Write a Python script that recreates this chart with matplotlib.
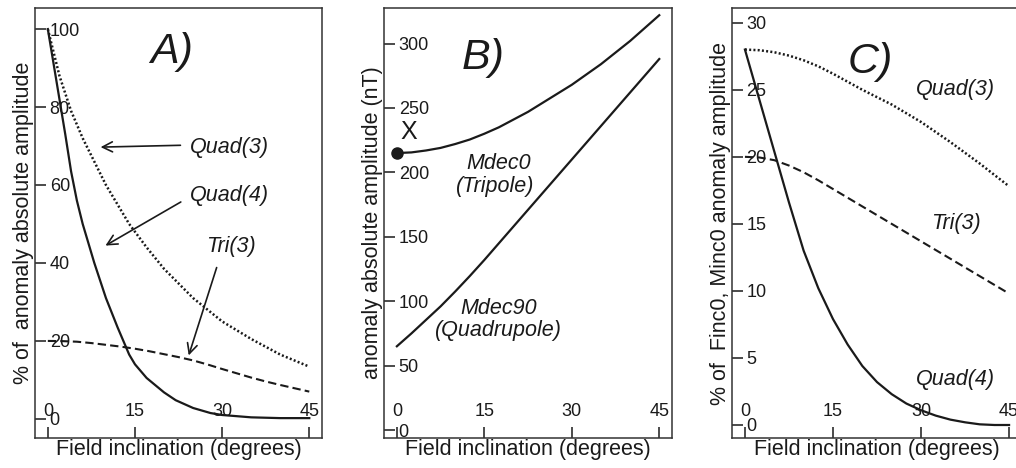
import numpy as np
import matplotlib.pyplot as plt

plt.rcParams['font.family'] = ['Liberation Sans', 'DejaVu Sans']

# Panel A: % of anomaly absolute amplitude vs field inclination
aQuad4X = [0, 1, 2, 3, 4, 5, 6, 7, 8, 9, 10, 12, 14, 15, 17, 20, 22, 25, 28, 30, 35, 40, 45]
aQuad4Y = [100, 91, 82, 73, 63.5, 56, 50, 45, 40, 35.5, 31, 23.5, 16.5, 14, 10.5, 6.8, 4.8,
           2.8, 1.5, 1.0, 0.4, 0.2, 0.2]
aQuad3X = [0, 2, 4, 6, 8, 10, 12, 14, 17, 20, 25, 30, 35, 40, 45]
aQuad3Y = [100, 88, 79, 72, 66, 60, 55, 50, 44, 38.5, 31, 25, 20.5, 16.5, 13.4]
aTri3X = [0, 2.5, 5, 7.5, 10, 12.5, 15, 17.5, 20, 22.5, 25, 27.5, 30, 32.5, 35, 37.5, 40, 42.5, 45]
aTri3Y = [20, 19.95, 19.8, 19.45, 19, 18.55, 18, 17.35, 16.6, 15.85, 15, 13.95, 12.8, 11.7,
          10.6, 9.6, 8.7, 7.85, 7]

# Panel B: anomaly absolute amplitude (nT)
bX = [0, 2.5, 5, 7.5, 10, 12.5, 15, 17.5, 20, 22.5, 25, 27.5, 30, 32.5, 35, 37.5, 40, 42.5, 45]
bMdec0 = [215, 215.5, 217, 219, 222, 225.5, 230, 235, 241, 247, 254, 261, 268, 276, 284, 293,
          302, 312, 322]
bMdec90 = [65, 75, 85.5, 96, 107.5, 119.5, 132, 145, 158, 171, 184, 197, 210, 223, 236, 249,
           262, 275, 288]

# Panel C: % of Finc0, Minc0 anomaly amplitude
cX = [0, 2.5, 5, 7.5, 10, 12.5, 15, 17.5, 20, 22.5, 25, 27.5, 30, 32.5, 35, 37.5, 40, 42.5, 45]
cQuad4 = [28, 24.2, 20.4, 16.6, 13.0, 10.2, 7.9, 6.0, 4.4, 3.2, 2.3, 1.6, 1.1, 0.7, 0.4, 0.2,
          0.05, 0, 0]
cQuad3 = [28, 27.95, 27.8, 27.55, 27.2, 26.75, 26.2, 25.6, 25.0, 24.45, 23.9, 23.25, 22.6,
          21.85, 21.1, 20.3, 19.5, 18.65, 17.8]
cTri3 = [20, 19.95, 19.75, 19.35, 18.85, 18.25, 17.6, 16.95, 16.3, 15.65, 15.0, 14.35, 13.7,
         13.05, 12.4, 11.75, 11.1, 10.45, 9.8]

xTicks = [0, 15, 30, 45]
aYTicks = [0, 20, 40, 60, 80, 100]
bYTicks = [0, 50, 100, 150, 200, 250, 300]
cYTicks = [0, 5, 10, 15, 20, 25, 30]

ink = '#1a1a1a'
solid = dict(color=ink, lw=1.6, ls='-')
dotted = dict(color=ink, lw=1.8, ls=(0, (0.8, 0.9)))
dashed = dict(color=ink, lw=1.5, ls=(0, (4, 2)))
itText = dict(fontsize=15.5, style='italic', color=ink, ha='center', va='center')


def styleAxes(ax, yticks, ylim, ylabel):
    ax.set_xlim(-2.2, 47.2)
    ax.set_ylim(*ylim)
    ax.set_xticks(xTicks)
    ax.set_yticks(yticks)
    ax.tick_params(axis='y', direction='in', length=8, width=1.1,
                   pad=-10.5, labelsize=13, colors=ink)
    ax.tick_params(axis='x', direction='in', length=8, width=1.1,
                   pad=-13, labelsize=13, colors=ink)
    plt.setp(ax.get_yticklabels(), ha='left')
    plt.setp(ax.get_xticklabels(), va='bottom')
    for sp in ax.spines.values():
        sp.set_linewidth(1.1)
        sp.set_color('#333333')
    ax.set_xlabel('Field inclination (degrees)', fontsize=15.5, labelpad=1, color=ink)
    ax.set_ylabel(ylabel, fontsize=15.5, labelpad=1, color=ink)


fig = plt.figure(figsize=(10.16, 4.68), dpi=100)
axA = fig.add_axes([0.0345, 0.0641, 0.2825, 0.9188])
axB = fig.add_axes([0.3780, 0.0641, 0.2835, 0.9188])
axC = fig.add_axes([0.7205, 0.0641, 0.2854, 0.9188])

# --- A ---
axA.plot(aQuad4X, aQuad4Y, **solid)
axA.plot(aQuad3X, aQuad3Y, **dotted)
axA.plot(aTri3X, aTri3Y, **dashed)
styleAxes(axA, aYTicks, (-4.9, 105.4), '% of  anomaly absolute amplitude')
axA.text(21.3, 94, 'A)', fontsize=31, style='italic', ha='center', va='center', color=ink)
arrow = dict(arrowstyle='->', lw=1.2, color=ink, mutation_scale=18)
axA.text(31.3, 69.7, 'Quad(3)', **itText)
axA.annotate('', xy=(8.6, 69.7), xytext=(23.3, 70.2), arrowprops=arrow)
axA.text(31.3, 57.4, 'Quad(4)', **itText)
axA.annotate('', xy=(9.5, 44.1), xytext=(23.3, 56.0), arrowprops=arrow)
axA.text(31.5, 44.1, 'Tri(3)', **itText)
axA.annotate('', xy=(24.1, 15.6), xytext=(29.2, 39.5), arrowprops=arrow)

# --- B ---
axB.plot(bX, bMdec0, **solid)
axB.plot(bX, bMdec90, **solid)
axB.plot([bX[0]], [bMdec0[0]], 'o', color=ink, ms=8)
styleAxes(axB, bYTicks, (-6.2, 327.6), 'anomaly absolute amplitude (nT)')
axB.text(14.8, 289, 'B)', fontsize=31, style='italic', ha='center', va='center', color=ink)
axB.text(2.0, 231.5, 'X', fontsize=18, ha='center', va='center', color=ink)
axB.text(17.5, 207, 'Mdec0', **itText)
axB.text(16.9, 189, '(Tripole)', **itText)
axB.text(17.5, 94.5, 'Mdec90', **itText)
axB.text(17.5, 77, '(Quadrupole)', **itText)

# --- C ---
axC.plot(cX, cQuad4, **solid)
axC.plot(cX, cQuad3, **dotted)
axC.plot(cX, cTri3, **dashed)
styleAxes(axC, cYTicks, (-0.97, 31.1), '% of  Finc0, Minc0 anomaly amplitude')
axC.text(21.4, 27.1, 'C)', fontsize=31, style='italic', ha='center', va='center', color=ink)
axC.text(35.9, 25.0, 'Quad(3)', **itText)
axC.text(35.9, 15.05, 'Tri(3)', **itText)
axC.text(35.9, 3.36, 'Quad(4)', **itText)

fig.savefig('out.png', dpi=100)
